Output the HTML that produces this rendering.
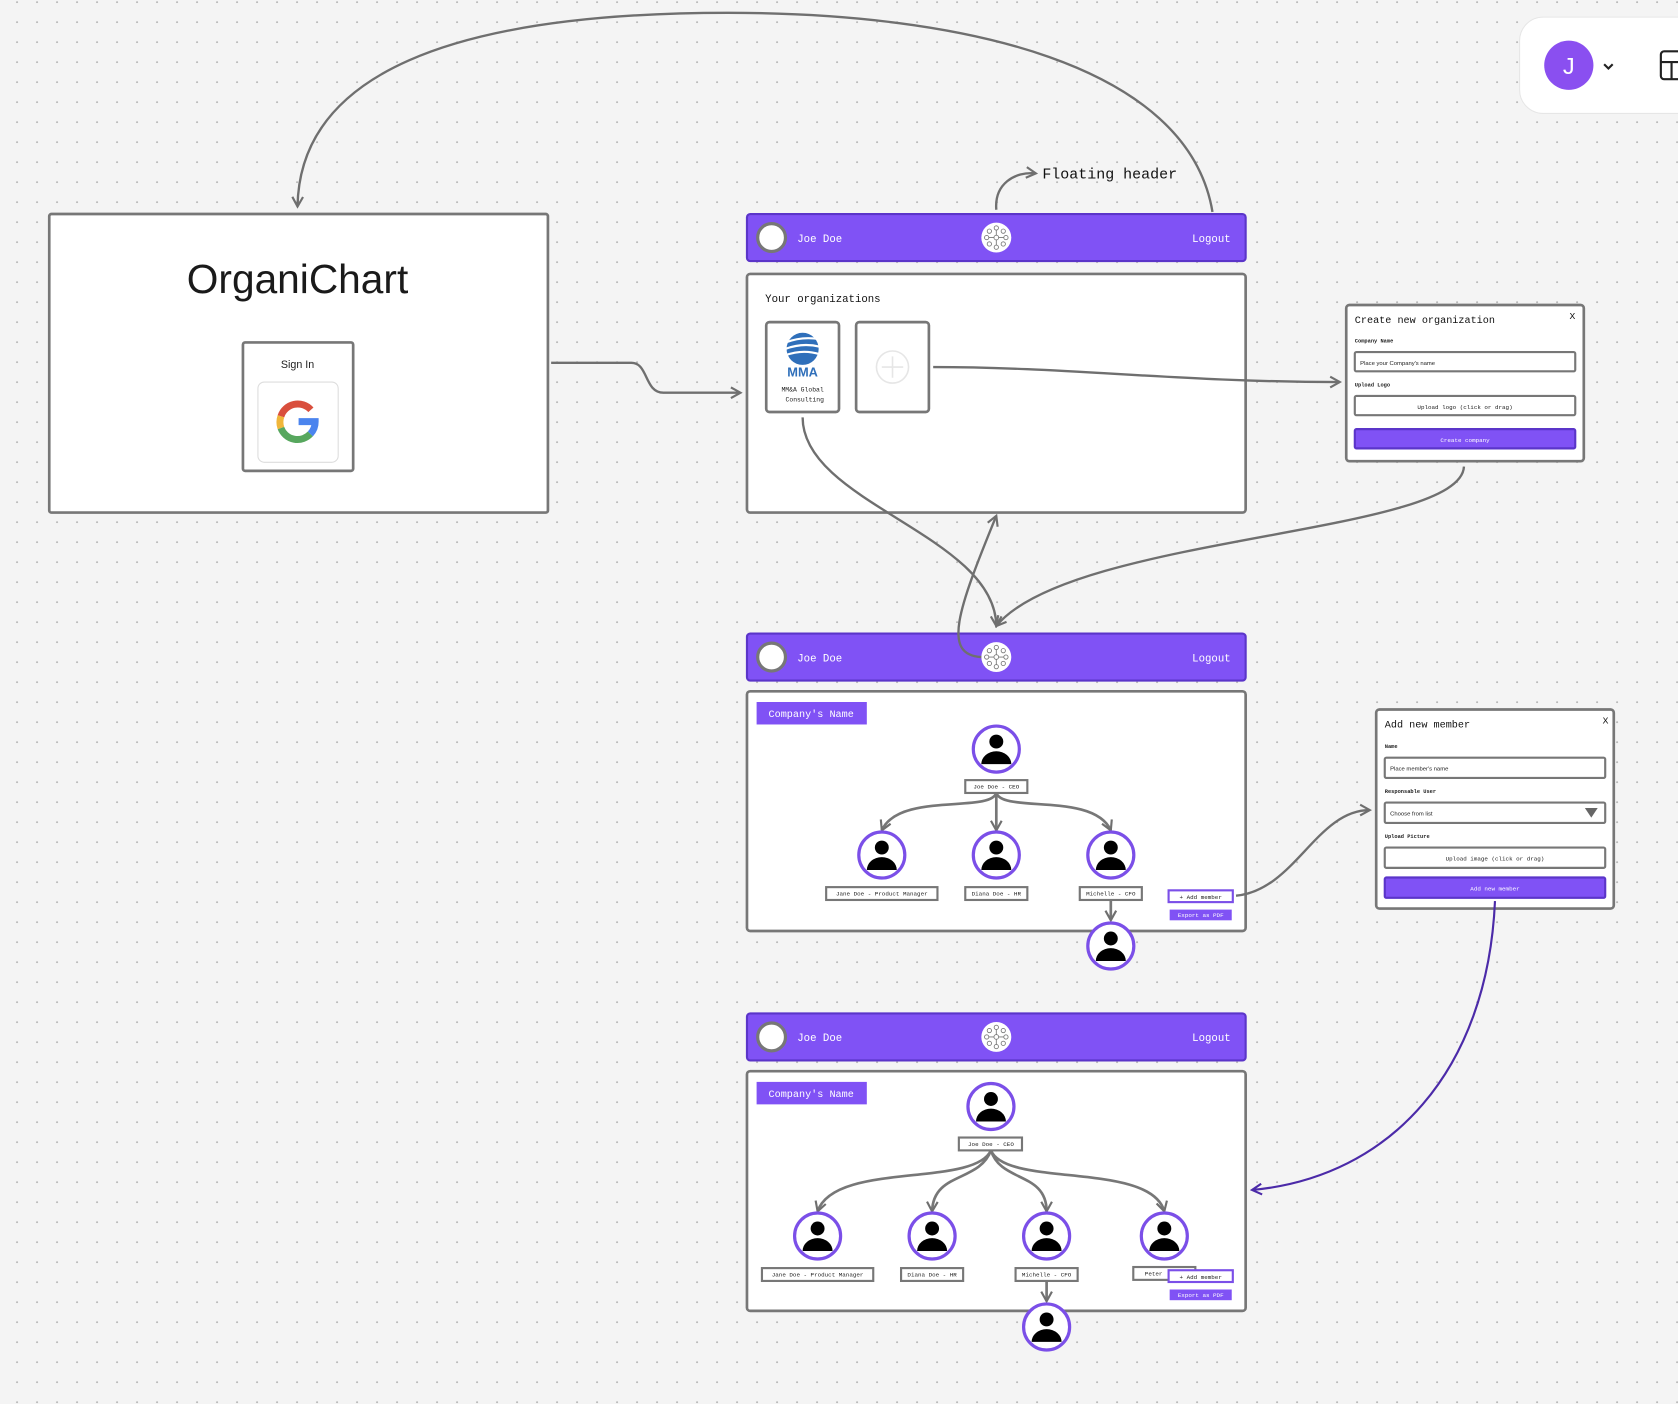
<!DOCTYPE html>
<html><head><meta charset="utf-8"><style>
html,body{margin:0;padding:0;background:#f4f4f4;}
svg{display:block;}
.m{font-family:"Liberation Mono","DejaVu Sans Mono",monospace;}
.s{font-family:"Liberation Sans",sans-serif;}
</style></head><body>
<svg width="1678" height="1404" viewBox="0 0 1568 1312" xmlns="http://www.w3.org/2000/svg">
<defs>
<pattern id="dots" x="14.9" y="1" width="18.69" height="18.69" patternUnits="userSpaceOnUse">
<circle cx="1" cy="1" r="0.9" fill="#b4b4b4"/>
</pattern>
<marker id="ar" viewBox="0 0 12 12" refX="10" refY="6" markerWidth="12" markerHeight="12" markerUnits="userSpaceOnUse" orient="auto">
<path d="M1,1 L10,6 L1,11" fill="none" stroke="#6f6f6f" stroke-width="2"/>
</marker>
<marker id="arp" viewBox="0 0 12 12" refX="10" refY="6" markerWidth="12" markerHeight="12" markerUnits="userSpaceOnUse" orient="auto">
<path d="M1,1 L10,6 L1,11" fill="none" stroke="#4b2aa8" stroke-width="2"/>
</marker>
<g id="person">
<circle cx="0" cy="0" r="21.5" fill="#fff" stroke="#7b4fe8" stroke-width="3"/>
<circle cx="0" cy="-7" r="6.5" fill="#000"/>
<path d="M-14,14 A14,12 0 0 1 14,14 Z" fill="#000"/>
</g>
<g id="logo">
<circle cx="0" cy="0" r="14" fill="#fff"/>
<g fill="none" stroke="#777" stroke-width="0.8">
<circle cx="0" cy="0" r="2.2"/>
<circle cx="0" cy="-9" r="2"/><circle cx="0" cy="9" r="2"/>
<circle cx="-9" cy="0" r="2"/><circle cx="9" cy="0" r="2"/>
<circle cx="-6.5" cy="-6" r="2"/><circle cx="6.5" cy="-6" r="2"/>
<circle cx="-6.5" cy="6" r="2"/><circle cx="6.5" cy="6" r="2"/>
<path d="M0,-2 V-7 M0,2 V7 M-2,0 H-7 M2,0 H7"/>
</g>
</g>
<g id="hdr">
<rect x="0" y="0" width="466" height="44" rx="3" fill="#8052f5" stroke="#5b35c9" stroke-width="2"/>
<circle cx="23" cy="22" r="13" fill="#fff" stroke="#777" stroke-width="3"/>
<text x="47" y="26" class="m" font-size="10" fill="#fff">Joe Doe</text>
<use href="#logo" x="233" y="22"/>
<text x="452" y="26" class="m" font-size="10" fill="#fff" text-anchor="end">Logout</text>
</g>
</defs>
<rect width="1568" height="1312" fill="#f4f4f4"/>
<rect width="1568" height="1312" fill="url(#dots)"/>

<!-- top right card -->
<rect x="1420" y="16" width="170" height="90" rx="22" fill="#fff" stroke="#e6e6e6"/>
<circle cx="1466" cy="61" r="23" fill="#8a4ff0"/>
<text x="1466" y="69" class="s" font-size="22" fill="#fff" text-anchor="middle">J</text>
<path d="M1499,60 L1503,64 L1507,60" fill="none" stroke="#222" stroke-width="2"/>
<rect x="1552" y="48" width="30" height="26" rx="3" fill="none" stroke="#222" stroke-width="2"/>
<path d="M1552,58 H1582 M1562,58 V74" stroke="#222" stroke-width="2"/>

<!-- login box -->
<rect x="46" y="200" width="466" height="279" rx="2" fill="#fff" stroke="#777" stroke-width="2.5"/>
<text x="278" y="274" class="s" font-size="38" fill="#1a1a1a" text-anchor="middle">OrganiChart</text>
<rect x="227" y="320" width="103" height="120" rx="2" fill="#fff" stroke="#777" stroke-width="2.5"/>
<text x="278" y="344" class="s" font-size="10" fill="#222" text-anchor="middle">Sign In</text>
<rect x="241" y="357" width="75" height="75" rx="6" fill="#fff" stroke="#ddd"/>
<g transform="translate(278,394)" fill="none" stroke-width="6.5">
<path d="M12.5,-11 A16.5,16.5 0 0 0 -15.5,-5" stroke="#d94f3d"/>
<path d="M-15.5,-5 A16.5,16.5 0 0 0 -15.5,6" stroke="#f0b63a"/>
<path d="M-15.5,6 A16.5,16.5 0 0 0 12,11.5" stroke="#57a75e"/>
<path d="M12,11.5 A16.5,16.5 0 0 0 16.5,0 H1" stroke="#4b84ee"/>
</g>

<!-- header 1 / panel 1 -->
<use href="#hdr" x="698" y="200"/>
<rect x="698" y="256" width="466" height="223" rx="3" fill="#fff" stroke="#777" stroke-width="2.5"/>
<text x="715" y="282" class="m" font-size="10" fill="#111">Your organizations</text>
<rect x="716" y="301" width="68" height="84" rx="3" fill="#fff" stroke="#777" stroke-width="2.5"/>
<g transform="translate(750,326)">
<circle r="15" fill="#2f6fba"/>
<path d="M-16,-6 Q0,-12 16,-9 M-16,0 Q0,-6 16,-2 M-16,6 Q0,0 16,5" stroke="#fff" stroke-width="2" fill="none"/>
</g>
<text x="750" y="352" class="s" font-size="12" font-weight="bold" fill="#2f6fba" text-anchor="middle">MMA</text>
<text x="750" y="366" class="m" font-size="6" fill="#222" text-anchor="middle">MM&amp;A Global</text>
<text x="752" y="375" class="m" font-size="6" fill="#222" text-anchor="middle">Consulting</text>
<rect x="800" y="301" width="68" height="84" rx="3" fill="#fff" stroke="#777" stroke-width="2.5"/>
<circle cx="834" cy="343" r="15" fill="none" stroke="#e6e6e6" stroke-width="1.5"/>
<path d="M834,333 V353 M824,343 H844" stroke="#e6e6e6" stroke-width="1.5"/>

<!-- create modal -->
<rect x="1258" y="285" width="222" height="146" rx="3" fill="#fff" stroke="#777" stroke-width="2.5"/>
<text x="1266" y="302" class="m" font-size="9.5" fill="#111">Create new organization</text>
<text x="1472" y="298" class="m" font-size="9" fill="#111" text-anchor="end">X</text>
<text x="1266" y="320" class="m" font-size="5" font-weight="bold" fill="#222">Company Name</text>
<rect x="1266" y="329" width="206" height="18" rx="1.5" fill="#fff" stroke="#777" stroke-width="2"/>
<text x="1271" y="341" class="s" font-size="5.5" fill="#222">Place your Company's name</text>
<text x="1266" y="361" class="m" font-size="5" font-weight="bold" fill="#222">Upload Logo</text>
<rect x="1266" y="370" width="206" height="18" rx="1.5" fill="#fff" stroke="#777" stroke-width="2"/>
<text x="1369" y="382" class="m" font-size="5.5" fill="#222" text-anchor="middle">Upload logo (click or drag)</text>
<rect x="1266" y="401" width="206" height="18" rx="1.5" fill="#8052f5" stroke="#5b35c9" stroke-width="2"/>
<text x="1369" y="413" class="m" font-size="5.5" fill="#fff" text-anchor="middle">Create company</text>

<!-- header 2 / panel 2 -->
<use href="#hdr" x="698" y="592"/>
<rect x="698" y="646" width="466" height="224" rx="3" fill="#fff" stroke="#777" stroke-width="2.5"/>
<rect x="707" y="656" width="103" height="21" fill="#8052f5"/>
<text x="758" y="670" class="m" font-size="9.5" fill="#fff" text-anchor="middle">Company's Name</text>
<g fill="none" stroke="#777" stroke-width="2.5">
<path d="M931,741 C925,760 840,740 824,776" marker-end="url(#ar)"/>
<path d="M931,741 V776" marker-end="url(#ar)"/>
<path d="M931,741 C937,760 1022,740 1038,776" marker-end="url(#ar)"/>
<path d="M1038,841 V860" marker-end="url(#ar)"/>
</g>
<use href="#person" x="931" y="700"/>
<use href="#person" x="824" y="799"/>
<use href="#person" x="931" y="799"/>
<use href="#person" x="1038" y="799"/>
<use href="#person" x="1038" y="884"/>
<g class="m" font-size="5.5" fill="#222" text-anchor="middle">
<rect x="902" y="729" width="58" height="12" fill="#fff" stroke="#777" stroke-width="2"/><text x="931" y="737">Joe Doe - CEO</text>
<rect x="772" y="829" width="104" height="12" fill="#fff" stroke="#777" stroke-width="2"/><text x="824" y="837">Jane Doe - Product Manager</text>
<rect x="902" y="829" width="58" height="12" fill="#fff" stroke="#777" stroke-width="2"/><text x="931" y="837">Diana Doe - HR</text>
<rect x="1009" y="829" width="58" height="12" fill="#fff" stroke="#777" stroke-width="2"/><text x="1038" y="837">Michelle - CFO</text>
<rect x="1092" y="832" width="60" height="11" fill="#fff" stroke="#7b4fe8" stroke-width="2"/><text x="1122" y="840">+ Add member</text>
<rect x="1093" y="850" width="58" height="10" fill="#8052f5"/><text x="1122" y="857" fill="#fff">Export as PDF</text>
</g>

<!-- add member modal -->
<rect x="1286" y="663" width="222" height="186" rx="3" fill="#fff" stroke="#777" stroke-width="2.5"/>
<text x="1294" y="680" class="m" font-size="9.5" fill="#111">Add new member</text>
<text x="1503" y="676" class="m" font-size="9" fill="#111" text-anchor="end">X</text>
<text x="1294" y="699" class="m" font-size="5" font-weight="bold" fill="#222">Name</text>
<rect x="1294" y="708" width="206" height="19" rx="1.5" fill="#fff" stroke="#777" stroke-width="2"/>
<text x="1299" y="720" class="s" font-size="5.5" fill="#222">Place member's name</text>
<text x="1294" y="741" class="m" font-size="5" font-weight="bold" fill="#222">Responsable User</text>
<rect x="1294" y="750" width="206" height="19" rx="1.5" fill="#fff" stroke="#777" stroke-width="2"/>
<text x="1299" y="762" class="s" font-size="5.5" fill="#222">Choose from list</text>
<path d="M1481,755 H1493 L1487,764 Z" fill="#666"/>
<text x="1294" y="783" class="m" font-size="5" font-weight="bold" fill="#222">Upload Picture</text>
<rect x="1294" y="792" width="206" height="19" rx="1.5" fill="#fff" stroke="#777" stroke-width="2"/>
<text x="1397" y="804" class="m" font-size="5.5" fill="#222" text-anchor="middle">Upload image (click or drag)</text>
<rect x="1294" y="820" width="206" height="19" rx="1.5" fill="#8052f5" stroke="#5b35c9" stroke-width="2"/>
<text x="1397" y="832" class="m" font-size="5.5" fill="#fff" text-anchor="middle">Add new member</text>

<!-- header 3 / panel 3 -->
<use href="#hdr" x="698" y="947"/>
<rect x="698" y="1001" width="466" height="224" rx="3" fill="#fff" stroke="#777" stroke-width="2.5"/>
<rect x="707" y="1011" width="103" height="21" fill="#8052f5"/>
<text x="758" y="1025" class="m" font-size="9.5" fill="#fff" text-anchor="middle">Company's Name</text>
<g fill="none" stroke="#777" stroke-width="2.5">
<path d="M926,1075 C910,1110 780,1085 764,1132" marker-end="url(#ar)"/>
<path d="M926,1075 C915,1105 872,1095 871,1132" marker-end="url(#ar)"/>
<path d="M926,1075 C935,1105 978,1095 978,1132" marker-end="url(#ar)"/>
<path d="M926,1075 C940,1110 1075,1085 1088,1132" marker-end="url(#ar)"/>
<path d="M978,1197 V1216" marker-end="url(#ar)"/>
</g>
<use href="#person" x="926" y="1034"/>
<use href="#person" x="764" y="1155"/>
<use href="#person" x="871" y="1155"/>
<use href="#person" x="978" y="1155"/>
<use href="#person" x="1088" y="1155"/>
<use href="#person" x="978" y="1240"/>
<g class="m" font-size="5.5" fill="#222" text-anchor="middle">
<rect x="896" y="1063" width="59" height="12" fill="#fff" stroke="#777" stroke-width="2"/><text x="926" y="1071">Joe Doe - CEO</text>
<rect x="712" y="1185" width="104" height="12" fill="#fff" stroke="#777" stroke-width="2"/><text x="764" y="1193">Jane Doe - Product Manager</text>
<rect x="842" y="1185" width="58" height="12" fill="#fff" stroke="#777" stroke-width="2"/><text x="871" y="1193">Diana Doe - HR</text>
<rect x="949" y="1185" width="58" height="12" fill="#fff" stroke="#777" stroke-width="2"/><text x="978" y="1193">Michelle - CFO</text>
<rect x="1059" y="1184" width="58" height="12" fill="#fff" stroke="#777" stroke-width="2"/><text x="1078" y="1192">Peter</text>
<rect x="1092" y="1187" width="60" height="11" fill="#fff" stroke="#7b4fe8" stroke-width="2"/><text x="1122" y="1195">+ Add member</text>
<rect x="1093" y="1205" width="58" height="10" fill="#8052f5"/><text x="1122" y="1212" fill="#fff">Export as PDF</text>
</g>

<!-- connectors -->
<g fill="none" stroke="#6f6f6f" stroke-width="2.2">
<path d="M1133,198 C1110,60 900,12 680,12 C420,12 280,70 278,193" marker-end="url(#ar)"/>
<path d="M931,196 C929,172 948,160 968,162" marker-end="url(#ar)"/>
<path d="M515,339 H590 C606,339 602,367 620,367 H692" marker-end="url(#ar)"/>
<path d="M872,343 C1000,343 1100,357 1252,357" marker-end="url(#ar)"/>
<path d="M750,390 C750,470 930,500 931,585" marker-end="url(#ar)"/>
<path d="M917,614 C880,612 895,570 931,482" marker-end="url(#ar)"/>
<path d="M1368,436 C1365,500 1000,500 931,585" marker-end="url(#ar)"/>
<path d="M1155,837 C1210,832 1230,757 1280,757" marker-end="url(#ar)"/>
</g>
<path d="M1397,842 C1390,1000 1300,1100 1170,1112" fill="none" stroke="#4b2aa8" stroke-width="2" marker-end="url(#arp)"/>
<text x="974" y="167" class="m" font-size="14" fill="#111">Floating header</text>
</svg>
</body></html>
